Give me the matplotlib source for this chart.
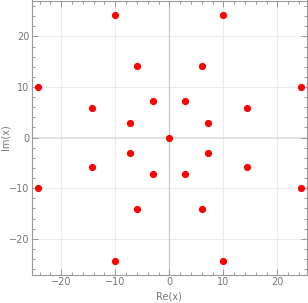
import matplotlib.pyplot as plt
from matplotlib.ticker import MultipleLocator

re_vals = [0, 2.95, -2.95, 2.95, -2.95, 7.2, -7.2, 7.2, -7.2,
           5.95, -5.95, 5.95, -5.95, 14.35, -14.35, 14.35, -14.35,
           10.0, -10.0, 10.0, -10.0, 24.35, -24.35, 24.35, -24.35]
im_vals = [0, 7.15, 7.15, -7.15, -7.15, 2.95, 2.95, -2.95, -2.95,
           14.2, 14.2, -14.2, -14.2, 5.9, 5.9, -5.9, -5.9,
           24.3, 24.3, -24.3, -24.3, 10.0, 10.0, -10.0, -10.0]

fig = plt.figure(figsize=(3.08, 3.03), dpi=100)
ax = fig.add_axes([32 / 308, 28.3 / 303, 274.7 / 308, 274.2 / 303])

ax.set_xlim(-25.4, 25.4)
ax.set_ylim(-27.1, 27.1)

# grid and zero axes
for v in [-20, -10, 10, 20]:
    ax.axvline(v, color='#ebebeb', lw=0.8, zorder=0)
    ax.axhline(v, color='#ebebeb', lw=0.8, zorder=0)
ax.axvline(0, color='#c8c8c8', lw=0.9, zorder=1)
ax.axhline(0, color='#dcdcdc', lw=1.2, zorder=1)

ax.plot(re_vals, im_vals, 'o', color='#ff0000', ms=5.2, mec='none', zorder=3)

gray = '#999999'
for s in ax.spines.values():
    s.set_color(gray)
    s.set_linewidth(0.8)

ax.xaxis.set_major_locator(MultipleLocator(10))
ax.xaxis.set_minor_locator(MultipleLocator(2))
ax.yaxis.set_major_locator(MultipleLocator(10))
ax.yaxis.set_minor_locator(MultipleLocator(2))
ax.tick_params(which='both', direction='in', colors=gray, labelcolor='#777777',
               top=True, right=True, labelsize=7, width=0.7, pad=2)
ax.tick_params(which='major', length=4)
ax.tick_params(which='minor', length=2)

ax.set_xlabel('Re(x)', color='#777777', fontsize=7, va='center')
ax.set_ylabel('Im(x)', color='#777777', fontsize=7, va='center')
ax.xaxis.set_label_coords(0.5, -0.081)
ax.yaxis.set_label_coords(-0.097, 0.5)

fig.savefig('out.png', dpi=100)
